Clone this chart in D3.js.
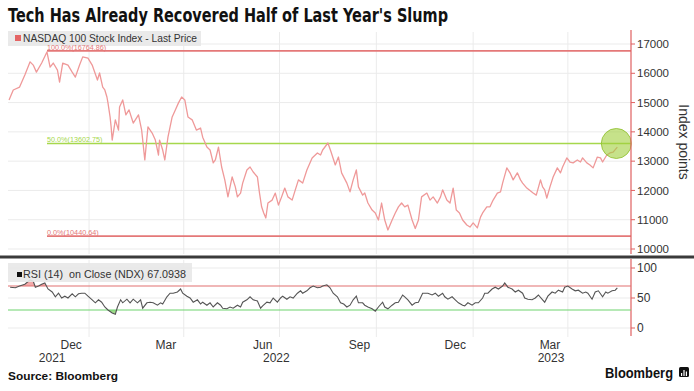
<!DOCTYPE html>
<html><head><meta charset="utf-8">
<script src="https://cdn.jsdelivr.net/npm/d3@7"></script>
<style>
html,body{margin:0;padding:0;background:#fff;}
svg{display:block;}
text{font-family:"Liberation Sans",Arial,sans-serif;}
</style></head>
<body>
<svg id="chart" width="694" height="391"></svg>
<script>
// ---------------- DATA ----------------
const title = "Tech Has Already Recovered Half of Last Year's Slump";
const priceLegend = "NASDAQ 100 Stock Index - Last Price";
const rsiLegend = "RSI (14)  on Close (NDX) 67.0938";
const source = "Source: Bloomberg";

const priceSeries = [
["2021-10-17",15090],["2021-10-21",15430],["2021-10-27",15530],["2021-11-01",15940],
["2021-11-06",16390],["2021-11-09",16280],["2021-11-12",16040],["2021-11-17",16350],
["2021-11-22",16730],["2021-11-25",16210],["2021-11-28",16350],["2021-12-02",16110],
["2021-12-04",15700],["2021-12-07",16350],["2021-12-12",16280],["2021-12-16",16040],
["2021-12-19",15870],["2021-12-23",16280],["2021-12-26",16560],["2021-12-31",16520],
["2022-01-04",16280],["2022-01-09",15770],["2022-01-11",16010],["2022-01-14",15530],
["2022-01-16",15430],["2022-01-18",15190],["2022-01-19",14990],["2022-01-21",14510],
["2022-01-22",14170],["2022-01-23",13720],["2022-01-26",14410],["2022-01-29",14060],
["2022-01-30",14850],["2022-02-02",15090],["2022-02-05",14580],["2022-02-08",14750],
["2022-02-12",14300],["2022-02-17",14580],["2022-02-20",14060],["2022-02-23",13040],
["2022-02-26",14170],["2022-03-02",13960],["2022-03-05",13720],["2022-03-08",13210],
["2022-03-09",13720],["2022-03-12",13380],["2022-03-14",13040],["2022-03-17",13820],
["2022-03-21",14510],["2022-03-24",14750],["2022-03-27",14990],["2022-03-30",15190],
["2022-04-02",15090],["2022-04-05",14510],["2022-04-09",14410],["2022-04-13",14060],
["2022-04-17",14130],["2022-04-19",13820],["2022-04-23",13480],["2022-04-26",13380],
["2022-04-29",12940],["2022-05-01",13040],["2022-05-04",13480],["2022-05-07",12800],
["2022-05-10",12360],["2022-05-13",11780],["2022-05-17",12460],["2022-05-20",12120],
["2022-05-22",11780],["2022-05-25",11910],["2022-05-27",12250],["2022-05-31",12700],
["2022-06-03",12800],["2022-06-06",12630],["2022-06-10",12460],["2022-06-12",11910],
["2022-06-14",11440],["2022-06-16",11230],["2022-06-18",11060],["2022-06-20",11570],
["2022-06-24",11670],["2022-06-27",11910],["2022-06-30",11500],["2022-07-03",11780],
["2022-07-06",12080],["2022-07-09",11780],["2022-07-13",11670],["2022-07-16",12020],
["2022-07-19",12360],["2022-07-23",12250],["2022-07-27",12700],["2022-08-01",13110],
["2022-08-06",13280],["2022-08-09",13210],["2022-08-11",13380],["2022-08-16",13620],
["2022-08-19",13310],["2022-08-23",12870],["2022-08-26",13140],["2022-08-29",12600],
["2022-09-03",12250],["2022-09-06",11950],["2022-09-09",12360],["2022-09-12",12700],
["2022-09-14",12120],["2022-09-18",11840],["2022-09-20",11910],["2022-09-23",11570],
["2022-09-27",11330],["2022-09-30",11230],["2022-10-03",10990],["2022-10-06",11570],
["2022-10-09",10990],["2022-10-12",10650],["2022-10-16",10990],["2022-10-19",11230],
["2022-10-22",11440],["2022-10-25",11570],["2022-10-28",11440],["2022-10-31",11500],
["2022-11-04",10990],["2022-11-07",10700],["2022-11-10",10990],["2022-11-13",11780],
["2022-11-18",11910],["2022-11-21",11670],["2022-11-24",11780],["2022-11-28",11570],
["2022-12-01",11780],["2022-12-03",12020],["2022-12-07",11670],["2022-12-10",11570],
["2022-12-13",12080],["2022-12-16",11330],["2022-12-19",11230],["2022-12-22",10990],
["2022-12-26",10820],["2022-12-29",10750],["2023-01-01",10890],["2023-01-05",10720],
["2023-01-08",11090],["2023-01-10",11230],["2023-01-14",11440],["2023-01-17",11440],
["2023-01-20",11670],["2023-01-24",11910],["2023-01-27",11950],["2023-01-29",12250],
["2023-02-02",12770],["2023-02-05",12600],["2023-02-08",12360],["2023-02-12",12600],
["2023-02-15",12360],["2023-02-17",12250],["2023-02-21",12080],["2023-02-27",11910],
["2023-03-02",11840],["2023-03-06",12360],["2023-03-08",12120],["2023-03-10",12020],
["2023-03-12",11740],["2023-03-15",12120],["2023-03-18",12460],["2023-03-22",12770],
["2023-03-25",12600],["2023-03-27",12800],["2023-03-31",13110],["2023-04-03",12970],
["2023-04-06",12940],["2023-04-10",13040],["2023-04-13",12970],["2023-04-15",13110],
["2023-04-19",12940],["2023-04-22",12870],["2023-04-25",12770],["2023-04-29",13140],
["2023-05-02",13110],["2023-05-04",12970],["2023-05-08",13210],["2023-05-11",13280],
["2023-05-14",13310],["2023-05-18",13480]
];

const rsiSeries = [
["2021-10-18",68],["2021-10-23",67],["2021-10-27",70],["2021-11-01",73],["2021-11-06",80],
["2021-11-09",78],["2021-11-11",68],["2021-11-14",70],["2021-11-17",73],["2021-11-20",75],
["2021-11-23",65],["2021-11-27",60],["2021-11-30",52],["2021-12-03",58],["2021-12-06",50],
["2021-12-09",53],["2021-12-12",50],["2021-12-16",57],["2021-12-19",52],["2021-12-22",57],
["2021-12-25",58],["2021-12-28",58],["2021-12-31",53],["2022-01-04",47],["2022-01-07",42],
["2022-01-10",47],["2022-01-13",43],["2022-01-16",35],["2022-01-19",30],["2022-01-23",25],
["2022-01-26",23],["2022-01-28",35],["2022-01-31",47],["2022-02-02",42],["2022-02-06",48],
["2022-02-09",42],["2022-02-12",48],["2022-02-16",42],["2022-02-19",47],["2022-02-21",33],
["2022-02-25",42],["2022-02-28",43],["2022-03-03",42],["2022-03-07",38],["2022-03-10",42],
["2022-03-12",40],["2022-03-16",52],["2022-03-19",58],["2022-03-22",58],["2022-03-26",60],
["2022-03-29",65],["2022-03-31",58],["2022-04-04",53],["2022-04-07",50],["2022-04-10",43],
["2022-04-14",47],["2022-04-17",40],["2022-04-19",43],["2022-04-23",38],["2022-04-26",42],
["2022-04-29",35],["2022-05-03",42],["2022-05-06",38],["2022-05-08",33],["2022-05-12",32],
["2022-05-15",35],["2022-05-18",33],["2022-05-22",38],["2022-05-25",35],["2022-05-27",43],
["2022-05-31",47],["2022-06-03",52],["2022-06-06",47],["2022-06-10",45],["2022-06-13",33],
["2022-06-15",37],["2022-06-19",43],["2022-06-22",42],["2022-06-25",50],["2022-06-29",43],
["2022-07-02",50],["2022-07-04",53],["2022-07-08",48],["2022-07-11",52],["2022-07-14",50],
["2022-07-18",58],["2022-07-21",62],["2022-07-23",58],["2022-07-27",62],["2022-07-30",67],
["2022-08-02",70],["2022-08-06",67],["2022-08-09",68],["2022-08-11",70],["2022-08-15",72],
["2022-08-18",67],["2022-08-21",58],["2022-08-25",52],["2022-08-28",42],["2022-08-31",40],
["2022-09-03",35],["2022-09-06",38],["2022-09-09",47],["2022-09-12",53],["2022-09-14",42],
["2022-09-18",42],["2022-09-20",38],["2022-09-23",35],["2022-09-27",32],["2022-09-30",28],
["2022-10-03",35],["2022-10-07",43],["2022-10-09",35],["2022-10-12",32],["2022-10-16",38],
["2022-10-19",42],["2022-10-22",43],["2022-10-26",55],["2022-10-28",52],["2022-10-31",47],
["2022-11-04",38],["2022-11-07",42],["2022-11-10",43],["2022-11-14",58],["2022-11-16",58],
["2022-11-19",58],["2022-11-23",55],["2022-11-26",58],["2022-11-29",53],["2022-12-03",58],
["2022-12-05",52],["2022-12-08",48],["2022-12-12",52],["2022-12-15",47],["2022-12-18",42],
["2022-12-22",38],["2022-12-24",37],["2022-12-27",42],["2022-12-31",38],["2023-01-03",42],
["2023-01-06",42],["2023-01-10",50],["2023-01-12",58],["2023-01-15",58],["2023-01-19",65],
["2023-01-22",68],["2023-01-25",65],["2023-01-29",70],["2023-01-31",75],["2023-02-03",68],
["2023-02-07",65],["2023-02-10",60],["2023-02-13",63],["2023-02-17",58],["2023-02-19",50],
["2023-02-22",48],["2023-02-26",47],["2023-03-01",50],["2023-03-04",55],["2023-03-08",47],
["2023-03-10",43],["2023-03-13",53],["2023-03-17",60],["2023-03-20",58],["2023-03-23",63],
["2023-03-27",60],["2023-03-29",68],["2023-04-01",70],["2023-04-05",65],["2023-04-08",62],
["2023-04-11",63],["2023-04-15",58],["2023-04-18",60],["2023-04-20",58],["2023-04-24",48],
["2023-04-27",60],["2023-04-30",62],["2023-05-04",52],["2023-05-07",60],["2023-05-09",58],
["2023-05-13",62],["2023-05-16",63],["2023-05-18",67]
];

const fibLevels = [
  {label:"100.0%(16764.86)", value:16764.86, color:"#e47878"},
  {label:"50.0%(13602.75)",  value:13602.75, color:"#a6d84c"},
  {label:"0.0%(10440.64)",   value:10440.64, color:"#e47878"}
];
const priceTicks = [10000,11000,12000,13000,14000,15000,16000,17000];
const rsiTicks = [0,50,100];
const rsiBands = [70,30];
const gridDates = ["2022-01-01","2022-04-01","2022-07-01","2022-10-01","2023-01-01","2023-04-01"];
const monthTicks = [["2021-12-15","Dec"],["2022-03-15","Mar"],["2022-06-15","Jun"],["2022-09-15","Sep"],["2022-12-15","Dec"],["2023-03-15","Mar"]];
const yearTicks = [["2021-11-27","2021"],["2022-06-28","2022"],["2023-03-16","2023"]];
const domainDates = ["2021-10-16","2023-05-31"];

// ---------------- CHART ----------------
const parse = d3.utcParse("%Y-%m-%d");
const svg = d3.select("#chart");
const L = 8, R = 631;
const x = d3.scaleUtc().domain(domainDates.map(parse)).range([L, R]);
const y = d3.scaleLinear().domain([10000,17000]).range([249,44]);
const yr = d3.scaleLinear().domain([0,100]).range([328,268]);

const price = priceSeries.map(d=>({date:parse(d[0]), v:d[1]}));
const rsi = rsiSeries.map(d=>({date:parse(d[0]), v:d[1]}));

const gridC = "#ebebeb", axisC = "#e06060", txtC = "#333";

// Title
svg.append("text").attr("x",8).attr("y",22).text(title)
  .style("font-family","'DejaVu Sans',sans-serif").style("font-weight","bold").style("font-size","20px")
  .attr("fill","#111").attr("textLength",440).attr("lengthAdjust","spacingAndGlyphs");

// Grid – main panel
const g = svg.append("g");
g.selectAll(".hg").data(priceTicks).enter().append("line")
  .attr("x1",L).attr("x2",R).attr("y1",d=>y(d)).attr("y2",d=>y(d)).attr("stroke",gridC).attr("stroke-width",1);
g.selectAll(".vg").data(gridDates).enter().append("line")
  .attr("x1",d=>x(parse(d))).attr("x2",d=>x(parse(d))).attr("y1",32).attr("y2",254).attr("stroke",gridC);
// Grid – RSI panel
g.selectAll(".hgr").data(rsiTicks).enter().append("line")
  .attr("x1",L).attr("x2",R).attr("y1",d=>yr(d)).attr("y2",d=>yr(d)).attr("stroke",gridC);
g.selectAll(".vgr").data(gridDates).enter().append("line")
  .attr("x1",d=>x(parse(d))).attr("x2",d=>x(parse(d))).attr("y1",260).attr("y2",337).attr("stroke",gridC);

// Legend main (behind the level labels)
svg.append("rect").attr("x",8).attr("y",31).attr("width",193).attr("height",15).attr("fill","#e8e8e8").attr("opacity",0.9);
svg.append("rect").attr("x",15).attr("y",35).attr("width",6).attr("height",6).attr("fill","#e46464");
svg.append("text").attr("x",23).attr("y",41.5).text(priceLegend).attr("fill",txtC)
  .style("font-size","10px").attr("textLength",174).attr("lengthAdjust","spacingAndGlyphs");

// Fib lines
const fib = svg.append("g");
fibLevels.forEach(f=>{
  fib.append("line").attr("x1",47).attr("x2",R).attr("y1",y(f.value)).attr("y2",y(f.value))
    .attr("stroke",f.color).attr("stroke-width",1.6);
  fib.append("text").attr("x",47).attr("y",y(f.value)-1).text(f.label)
    .attr("fill",f.color).style("font-size","7px").attr("textLength",f.label.length*3.7).attr("lengthAdjust","spacingAndGlyphs");
});

// Price line
const line = d3.line().x(d=>x(d.date)).y(d=>y(d.v));
svg.append("path").datum(price).attr("d",line).attr("fill","none")
  .attr("stroke","#ef9999").attr("stroke-width",1.3).attr("stroke-linejoin","round");

// Highlight circle at the last point on the 50% level
const last = price[price.length-1];
svg.append("circle").attr("cx",x(last.date)-1).attr("cy",y(fibLevels[1].value)).attr("r",15)
  .attr("fill","rgba(160,206,60,0.6)").attr("stroke","rgba(140,190,40,0.8)").attr("stroke-width",1);

// Right axis main
const ax = svg.append("g");
ax.append("line").attr("x1",R).attr("x2",R).attr("y1",30).attr("y2",254).attr("stroke",axisC).attr("stroke-width",1.2);
ax.selectAll(".pt").data(priceTicks).enter().append("line")
  .attr("x1",R).attr("x2",R+4).attr("y1",d=>y(d)).attr("y2",d=>y(d)).attr("stroke",axisC);
ax.selectAll(".pl").data(priceTicks).enter().append("text")
  .attr("x",637).attr("y",d=>y(d)).attr("dy","0.36em").text(d=>d).attr("fill",txtC).style("font-size","11.5px");
svg.append("text").attr("transform","translate(679,142) rotate(90)").attr("text-anchor","middle")
  .text("Index points").attr("fill",txtC).style("font-size","14px");

// Separator
svg.append("line").attr("x1",0).attr("x2",694).attr("y1",257).attr("y2",257).attr("stroke","#3a3a3a").attr("stroke-width",3);

// RSI panel
const area70 = d3.area().x(d=>x(d.date)).y0(yr(70)).y1(d=>yr(d.v));
const area30 = d3.area().x(d=>x(d.date)).y0(yr(30)).y1(d=>yr(d.v));
const defs = svg.append("defs");
defs.append("clipPath").attr("id","above70").append("rect").attr("x",L).attr("y",260).attr("width",R-L).attr("height",yr(70)-260);
defs.append("clipPath").attr("id","below30").append("rect").attr("x",L).attr("y",yr(30)).attr("width",R-L).attr("height",336-yr(30));
svg.append("path").datum(rsi).attr("d",area70).attr("fill","#f2a9a9").attr("clip-path","url(#above70)");
svg.append("path").datum(rsi).attr("d",area30).attr("fill","#9fdc8a").attr("clip-path","url(#below30)");

svg.selectAll(".band").data(rsiBands).enter().append("line")
  .attr("x1",L).attr("x2",R).attr("y1",d=>yr(d)).attr("y2",d=>yr(d))
  .attr("stroke",d=>d===70?"#e27070":"#6fd36f").attr("stroke-width",1.2);

const rline = d3.line().x(d=>x(d.date)).y(d=>yr(d.v));
svg.append("path").datum(rsi).attr("d",rline).attr("fill","none").attr("stroke","#555").attr("stroke-width",1.1);

// RSI legend
svg.append("rect").attr("x",8).attr("y",263).attr("width",184).attr("height",19).attr("fill","#e8e8e8").attr("opacity",0.9);
svg.append("rect").attr("x",17).attr("y",272).attr("width",5).attr("height",5).attr("fill","#111");
svg.append("text").attr("x",23).attr("y",277.5).text(rsiLegend).attr("fill",txtC)
  .style("font-size","10.5px").attr("textLength",163).attr("lengthAdjust","spacingAndGlyphs").style("white-space","pre");

// RSI axis
ax.append("line").attr("x1",R).attr("x2",R).attr("y1",259).attr("y2",336).attr("stroke",axisC).attr("stroke-width",1.2);
ax.selectAll(".rt").data(rsiTicks).enter().append("line")
  .attr("x1",R).attr("x2",R+4).attr("y1",d=>yr(d)).attr("y2",d=>yr(d)).attr("stroke",axisC);
ax.selectAll(".rl").data(rsiTicks).enter().append("text")
  .attr("x",637).attr("y",d=>yr(d)).attr("dy","0.36em").text(d=>d).attr("fill",txtC).style("font-size","12px");

// X labels
svg.selectAll(".mt").data(monthTicks).enter().append("text")
  .attr("x",d=>x(parse(d[0]))).attr("y",349).attr("text-anchor","middle").text(d=>d[1])
  .attr("fill",txtC).style("font-size","12px");
svg.selectAll(".yt").data(yearTicks).enter().append("text")
  .attr("x",d=>x(parse(d[0]))).attr("y",362).attr("text-anchor","middle").text(d=>d[1])
  .attr("fill",txtC).style("font-size","12px");

// Footer
svg.append("text").attr("x",8).attr("y",380).text(source).attr("fill","#111")
  .style("font-weight","bold").style("font-size","11px").attr("textLength",110).attr("lengthAdjust","spacingAndGlyphs");
svg.append("text").attr("x",605).attr("y",378).text("Bloomberg").attr("fill","#111")
  .style("font-weight","bold").style("font-size","14px").attr("textLength",68).attr("lengthAdjust","spacingAndGlyphs");
const logo = svg.append("g").attr("transform","translate(679,367)");
logo.append("rect").attr("width",10).attr("height",10).attr("rx",1.5).attr("fill","#111");
[[2,6,1.2,3],[4.4,3,1.2,6],[6.8,4.5,1.2,4.5]].forEach(b=>logo.append("rect").attr("x",b[0]).attr("y",b[1]).attr("width",b[2]).attr("height",b[3]).attr("fill","#fff"));
</script>
</body></html>
